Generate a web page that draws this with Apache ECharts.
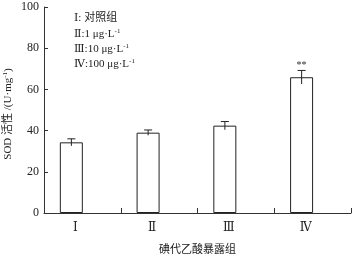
<!DOCTYPE html>
<html>
<head>
<meta charset="utf-8">
<script src="https://cdn.jsdelivr.net/npm/echarts@6/dist/echarts.min.js"></script>
<style>
  html, body { margin: 0; padding: 0; background: #fff; }
  #chart { width: 354px; height: 254px; }
</style>
</head>
<body>
<div id="chart"></div>
<script>
// groups and measured values
const groups = ["Ⅰ", "Ⅱ", "Ⅲ", "Ⅳ"];
const sodValue = [34.3, 39.0, 42.4, 65.9];
const sodError = [1.7, 1.3, 2.0, 3.3];
const sigMark = ["", "", "", "**"];
const yTicks = [0, 20, 40, 60, 80, 100];
const legendLines = [
  "Ⅰ: 对照组",
  "Ⅱ:1 μg·L{sup|-1}",
  "Ⅲ:10 μg·L{sup|-1}",
  "Ⅳ:100 μg·L{sup|-1}",
];

const serif = "'Liberation Serif', 'DejaVu Serif', 'Noto Sans CJK SC', serif";
const barOffset = -11;

let chartDom = echarts.init(document.getElementById("chart"));

let barData = sodValue.map((v, i) => ({
  value: v,
  label: {
    show: sigMark[i] !== "",
    formatter: sigMark[i],
    position: "top",
    distance: 7,
    color: "#333",
    fontSize: 10,
    fontFamily: serif,
  },
}));

let errData = sodValue.map((v, i) => [i, v - sodError[i], v + sodError[i]]);

chartDom.setOption({
  animation: false,
  grid: { left: 44, right: 3, top: 7, bottom: 41, containLabel: false, outerBoundsMode: "none" },
  graphic: legendLines.map((t, i) => ({
    type: "text",
    left: 74,
    top: 13 + i * 15,
    style: {
      text: t,
      fontFamily: serif,
      fontSize: 11,
      fill: "#222",
      rich: {
        sup: { fontSize: 7, verticalAlign: "top", padding: [0, 0, 6, 0], fontFamily: serif },
      },
    },
  })),
  xAxis: {
    type: "category",
    data: groups,
    name: "碘代乙酸暴露组",
    nameLocation: "middle",
    nameGap: 30,
    nameMoveOverlap: false,
    nameTextStyle: { fontFamily: "'Noto Sans CJK SC', sans-serif", fontSize: 11, color: "#222" },
    axisLine: { lineStyle: { color: "#333", width: 1 } },
    axisTick: { show: true, inside: true, length: 5, alignWithLabel: false, lineStyle: { color: "#333" } },
    axisLabel: { color: "#222", fontFamily: serif, fontSize: 12, margin: 9, padding: [0, 14, 0, 0] },
  },
  yAxis: {
    type: "value",
    min: yTicks[0],
    max: yTicks[yTicks.length - 1],
    interval: 20,
    name: "SOD 活性 /(U·mg{sup|-1})",
    nameLocation: "middle",
    nameGap: 29,
    nameMoveOverlap: false,
    nameTextStyle: {
      fontFamily: serif,
      fontSize: 11,
      color: "#222",
      padding: [0, 8, 0, 0],
      rich: { sup: { fontSize: 7, verticalAlign: "top", padding: [0, 0, 6, 0], fontFamily: serif } },
    },
    axisLine: { show: true, lineStyle: { color: "#333", width: 1 } },
    axisTick: { show: true, inside: true, length: 4, lineStyle: { color: "#333" } },
    axisLabel: { color: "#222", fontFamily: serif, fontSize: 12, margin: 5 },
    splitLine: { show: false },
  },
  series: [
    {
      name: "SOD",
      type: "bar",
      barWidth: 23,
      barGap: "-4%",
      data: barData,
      itemStyle: { color: "#fff", borderColor: "#222", borderWidth: 1 },
    },
    {
      // empty series, only pushes the bars left of the category centre
      name: "pad",
      type: "bar",
      barWidth: 23,
      data: groups.map(() => "-"),
      silent: true,
    },
    {
      name: "err",
      type: "custom",
      data: errData,
      z: 5,
      renderItem: function (params, api) {
        let lo = api.coord([api.value(0), api.value(1)]);
        let hi = api.coord([api.value(0), api.value(2)]);
        let x = lo[0] + barOffset;
        let style = { stroke: "#222", lineWidth: 1 };
        return {
          type: "group",
          children: [
            { type: "line", shape: { x1: x, y1: lo[1], x2: x, y2: hi[1] }, style: style },
            { type: "line", shape: { x1: x - 4, y1: hi[1], x2: x + 4, y2: hi[1] }, style: style },
          ],
        };
      },
    },
  ],
});
</script>
</body>
</html>
